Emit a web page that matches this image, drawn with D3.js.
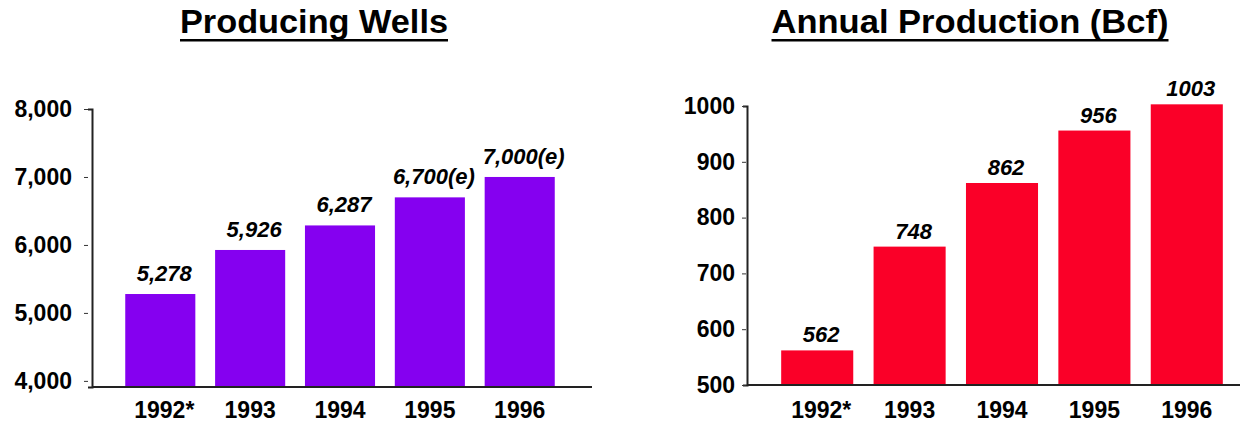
<!DOCTYPE html>
<html>
<head>
<meta charset="utf-8">
<script src="https://cdn.jsdelivr.net/npm/d3@7"></script>
<style>
  body { margin: 0; background: #fff; }
  text { font-family: Arial, 'Liberation Sans', sans-serif; }
</style>
</head>
<body>
<div id="chart"></div>
<script>
const years = ['1992*', '1993', '1994', '1995', '1996']
const wells = [5278, 5926, 6287, 6700, 7000]
const wellLabels = ['5,278', '5,926', '6,287', '6,700(e)', '7,000(e)']
const wellTicks = [4000, 5000, 6000, 7000, 8000]
const production = [562, 748, 862, 956, 1003]
const productionLabels = ['562', '748', '862', '956', '1003']
const productionTicks = [500, 600, 700, 800, 900, 1000]

const svg = d3
  .select('#chart')
  .append('svg')
  .attr('width', 1241)
  .attr('height', 424)

function drawPanel(opts) {
  const g = svg.append('g')

  const x = d3.scaleBand()
    .domain(years)
    .range(opts.xRange)
    .paddingInner(0.22)
    .paddingOuter(0.37)

  const y = d3.scaleLinear()
    .domain(opts.yDomain)
    .range(opts.yRange)

  // title with underline
  g.append('text')
    .text(opts.title)
    .attr('x', opts.titleX)
    .attr('y', 33)
    .attr('text-anchor', 'middle')
    .attr('font-size', 33)
    .attr('font-weight', 'bold')
    .attr('textLength', opts.titleW)
    .attr('lengthAdjust', 'spacingAndGlyphs')
  g.append('rect')
    .attr('x', opts.titleX - opts.titleW / 2)
    .attr('y', 39)
    .attr('width', opts.titleW)
    .attr('height', 2.5)
    .attr('fill', '#000')

  // bars
  g.selectAll('.bar')
    .data(opts.values)
    .enter()
    .append('rect')
    .attr('class', 'bar')
    .attr('x', (d, i) => x(years[i]))
    .attr('width', x.bandwidth())
    .attr('y', d => y(d))
    .attr('height', d => y.range()[0] - y(d))
    .attr('fill', opts.color)

  // value labels
  g.selectAll('.val')
    .data(opts.values)
    .enter()
    .append('text')
    .attr('class', 'val')
    .text((d, i) => opts.labels[i])
    .attr('x', (d, i) => x(years[i]) + x.bandwidth() / 2 + 4)
    .attr('y', d => y(d) - opts.labelGap)
    .attr('text-anchor', 'middle')
    .attr('font-size', 22)
    .attr('font-weight', 'bold')
    .attr('font-style', 'italic')

  // y axis
  const yAxis = d3.axisLeft(y)
    .tickValues(opts.ticks)
    .tickFormat(opts.tickFormat)
    .tickSizeOuter(0)
    .tickSize(4)
    .tickPadding(opts.tickPad)
  const ya = g.append('g')
    .attr('transform', 'translate(' + opts.xRange[0] + ',0)')
    .call(yAxis)
  ya.select('.domain').attr('stroke', '#222').attr('stroke-width', 2)
  ya.selectAll('.tick line').attr('x1', -opts.tickGap).attr('x2', -opts.tickGap - 4).attr('stroke', '#333')
  ya.selectAll('.tick text')
    .attr('font-size', 23)
    .attr('font-weight', 'bold')
    .attr('fill', '#000')
    .attr('font-family', 'Arial, Liberation Sans, sans-serif')

  // x axis
  const base = y.range()[0]
  g.append('line')
    .attr('x1', opts.xRange[0])
    .attr('x2', opts.axisEnd)
    .attr('y1', base)
    .attr('y2', base)
    .attr('stroke', '#222')
    .attr('stroke-width', 2)

  g.selectAll('.xlab')
    .data(years)
    .enter()
    .append('text')
    .attr('class', 'xlab')
    .text(d => d)
    .attr('x', d => x(d) + x.bandwidth() / 2 + (d === '1992*' ? 4 : 0))
    .attr('y', 418)
    .attr('text-anchor', 'middle')
    .attr('font-size', 23)
    .attr('font-weight', 'bold')
}

drawPanel({
  title: 'Producing Wells',
  titleX: 314,
  titleW: 268,
  values: wells,
  labels: wellLabels,
  ticks: wellTicks,
  tickFormat: d3.format(','),
  xRange: [92, 588],
  axisEnd: 592,
  yDomain: [3910, 8000],
  yRange: [387, 109],
  color: '#8500F0',
  labelGap: 13,
  tickPad: 16,
  tickGap: 4
})

drawPanel({
  title: 'Annual Production (Bcf)',
  titleX: 970,
  titleW: 397,
  values: production,
  labels: productionLabels,
  ticks: productionTicks,
  tickFormat: d3.format('d'),
  xRange: [747, 1257],
  axisEnd: 1240,
  yDomain: [500, 1000],
  yRange: [385, 106],
  color: '#FA0028',
  labelGap: 8,
  tickPad: 8,
  tickGap: 1
})
</script>
</body>
</html>
